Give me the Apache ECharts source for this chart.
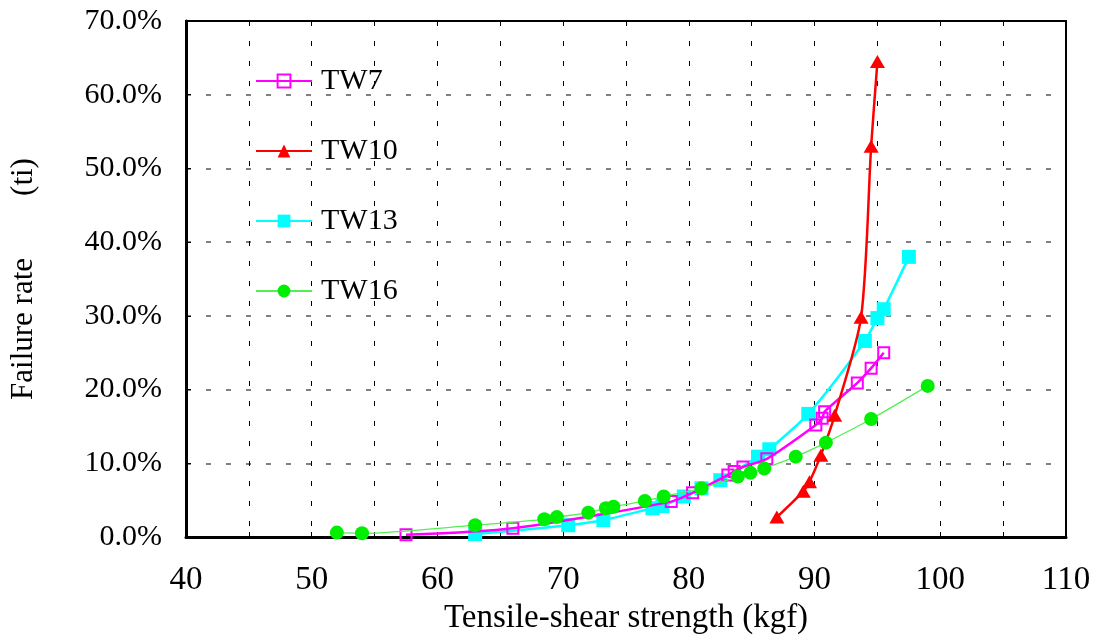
<!DOCTYPE html>
<html>
<head>
<meta charset="utf-8">
<script src="https://cdn.jsdelivr.net/npm/echarts@6/dist/echarts.min.js"></script>
<style>
  html, body { margin: 0; padding: 0; background: #fff; }
  #chart { width: 1094px; height: 642px; }
</style>
</head>
<body>
<div id="chart"></div>
<script>
// Tensile-shear strength (kgf) against cumulative failure rate (%)
const tw7X  = [57.5, 66.0, 78.6, 80.3, 83.1, 83.6, 84.3, 86.2, 90.1, 90.6, 90.8, 93.4, 94.5, 95.5];
const tw7Y  = [0.3, 1.2, 4.8, 6.0, 8.4, 8.9, 9.5, 10.6, 15.2, 16.1, 17.0, 20.9, 22.9, 25.0];

const tw10X = [87.0, 89.1, 89.6, 90.5, 91.6, 93.7, 94.5, 95.0];
const tw10Y = [2.7, 6.2, 7.5, 11.1, 16.5, 29.8, 53.0, 64.5];

const tw13X = [63.0, 70.4, 73.2, 77.1, 77.9, 79.6, 81.0, 82.5, 85.5, 86.4, 89.5, 94.0, 95.0, 95.5, 97.5];
const tw13Y = [0.4, 1.6, 2.3, 3.9, 4.2, 5.5, 6.6, 7.7, 10.9, 11.9, 16.7, 26.6, 29.7, 30.9, 38.0];

const tw16X = [52.0, 54.0, 63.0, 68.5, 69.5, 72.0, 73.4, 74.0, 76.5, 78.0, 81.0, 83.9, 84.9, 86.0, 88.5, 90.9, 94.5, 99.0];
const tw16Y = [0.6, 0.5, 1.6, 2.4, 2.7, 3.3, 3.9, 4.1, 4.9, 5.5, 6.6, 8.2, 8.7, 9.3, 10.9, 12.8, 16.0, 20.5];

const seriesNames = ['TW7', 'TW10', 'TW13', 'TW16'];

const xTicks = { min: 40, max: 110, step: 10 };
const yTicks = { min: 0, max: 70, step: 10 };

const FONT = '"Liberation Serif", "Times New Roman", serif';

function pairs(xs, ys) {
  return xs.map((x, i) => [x, ys[i]]);
}

const chart = echarts.init(document.getElementById('chart'), null, { renderer: 'canvas' });

const option = {
  backgroundColor: '#ffffff',
  animation: false,
  textStyle: { fontFamily: FONT, color: '#000' },
  grid: {
    left: 177, top: 21, right: 28, bottom: 105,
    show: true, borderColor: '#000', borderWidth: 2, backgroundColor: 'transparent'
  },
  legend: {
    orient: 'vertical',
    left: 250, top: 61,
    itemWidth: 56, itemHeight: 16, itemGap: 40,
    textStyle: { fontFamily: FONT, fontSize: 30, lineHeight: 30, color: '#000', padding: [0, 0, 0, 4] },
    data: seriesNames
  },
  xAxis: [
    {
      type: 'value', position: 'bottom',
      min: xTicks.min, max: xTicks.max, interval: xTicks.step,
      name: 'Tensile-shear strength (kgf)',
      nameLocation: 'middle', nameGap: 64,
      nameTextStyle: { fontFamily: FONT, fontSize: 33, color: '#000' },
      axisLine: { show: true, lineStyle: { color: '#000', width: 3 } },
      axisTick: { show: true, inside: true, length: 5, lineStyle: { color: '#000', width: 1 } },
      minorTick: { show: true, splitNumber: 2, length: 5, lineStyle: { color: '#000', width: 1 } },
      axisLabel: { fontFamily: FONT, fontSize: 33, color: '#000', margin: 27 },
      splitLine: { show: true, lineStyle: { color: '#000', width: 1, type: [5, 15] } },
      minorSplitLine: { show: true, lineStyle: { color: '#000', width: 1, type: [5, 15] } }
    },
    {
      type: 'value', position: 'top',
      min: xTicks.min, max: xTicks.max, interval: xTicks.step,
      axisLine: { show: true, lineStyle: { color: '#000', width: 2 } },
      axisTick: { show: true, inside: true, length: 4, lineStyle: { color: '#000', width: 1 } },
      minorTick: { show: true, splitNumber: 2, length: 4, lineStyle: { color: '#000', width: 1 } },
      axisLabel: { show: false },
      splitLine: { show: false }
    }
  ],
  yAxis: {
    type: 'value',
    min: yTicks.min, max: yTicks.max, interval: yTicks.step,
    name: 'Failure rate        (ti)',
    nameLocation: 'middle', nameGap: 147, nameRotate: 90,
    nameTextStyle: { fontFamily: FONT, fontSize: 31, color: '#000' },
    axisLine: { show: true, lineStyle: { color: '#000', width: 3 } },
    axisTick: { show: true, inside: true, length: 5, lineStyle: { color: '#000', width: 1 } },
    axisLabel: {
      fontFamily: FONT, fontSize: 30, color: '#000', margin: 24,
      formatter: v => v.toFixed(1) + '%'
    },
    splitLine: { show: true, lineStyle: { color: '#808080', width: 2, type: [5, 15] } }
  },
  series: [
    {
      name: 'TW7', type: 'line', smooth: 0.25,
      data: pairs(tw7X, tw7Y),
      symbol: 'rect', symbolSize: 11,
      itemStyle: { color: 'rgba(255,255,255,0)', borderColor: '#ff00ff', borderWidth: 2 },
      lineStyle: { color: '#ff00ff', width: 2.5 },
      z: 3
    },
    {
      name: 'TW10', type: 'line', smooth: 0.25,
      data: pairs(tw10X, tw10Y),
      symbol: 'triangle', symbolSize: [15, 13],
      itemStyle: { color: '#ff0000' },
      lineStyle: { color: '#ff0000', width: 2.5 },
      z: 4
    },
    {
      name: 'TW13', type: 'line', smooth: 0.25,
      data: pairs(tw13X, tw13Y),
      symbol: 'rect', symbolSize: 14,
      itemStyle: { color: '#00ffff' },
      lineStyle: { color: '#00ffff', width: 2.5 },
      z: 2
    },
    {
      name: 'TW16', type: 'line', smooth: 0.25,
      data: pairs(tw16X, tw16Y),
      symbol: 'circle', symbolSize: 14,
      itemStyle: { color: '#00ee00' },
      lineStyle: { color: '#55ee55', width: 1.3 },
      z: 5
    }
  ]
};

chart.setOption(option);
</script>
</body>
</html>
